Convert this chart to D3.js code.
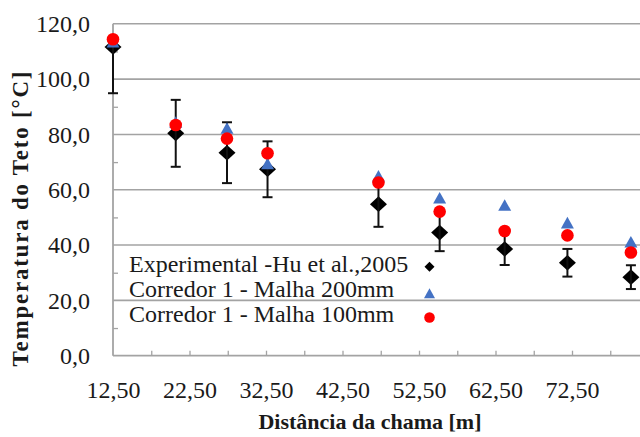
<!DOCTYPE html>
<html>
<head>
<meta charset="utf-8">
<script src="https://cdn.jsdelivr.net/npm/d3@7"></script>
<style>
  html, body { margin: 0; padding: 0; background: #fff; }
  svg { display: block; }
</style>
</head>
<body>
<svg id="chart" width="640" height="437"></svg>
<script>
// Distance from the flame [m] for each measurement point
const distancia = [12.5, 20.7, 27.4, 32.7, 47.2, 55.2, 63.7, 71.9, 80.2];
// Ceiling temperature [°C]
const experimental = [111.6, 80.4, 73.4, 67.4, 54.8, 44.5, 38.6, 33.6, 28.4];
const erroExperimental = [16.7, 12.1, 11.0, 10.1, 8.2, 6.7, 5.8, 5.0, 4.3];
const malha200 = [113.5, 84.5, 82.3, 69.5, 65.0, 57.1, 54.5, 48.1, 41.2];
const malha100 = [114.4, 83.4, 78.5, 73.2, 62.6, 52.1, 45.1, 43.5, 37.3];

const nomesSeries = ["Experimental -Hu et al.,2005", "Corredor 1 - Malha 200mm", "Corredor 1 - Malha 100mm"];
const xTicks = [12.5, 22.5, 32.5, 42.5, 52.5, 62.5, 72.5];
const xMinorTicks = [17.5, 22.5, 27.5, 32.5, 37.5, 42.5, 47.5, 52.5, 57.5, 62.5, 67.5, 72.5, 77.5, 82.5];
const yTicks = [0, 20, 40, 60, 80, 100, 120];
const yMinorTicks = [10, 30, 50, 70, 90, 110];

const ptBR = d3.formatLocale({ decimal: ",", thousands: ".", grouping: [3], currency: ["R$", ""] });
const fmtX = ptBR.format(".2f");
const fmtY = ptBR.format(".1f");

const fontSerif = "'Liberation Serif', 'Times New Roman', Times, 'DejaVu Serif', serif";
const textColor = "#1a1a1a";

const svg = d3.select("#chart").attr("font-family", fontSerif);
svg.append("rect").attr("width", 640).attr("height", 437).attr("fill", "#fff");

const plotLeft = 113, plotTop = 23.8, plotBottom = 355.7;
const x = d3.scaleLinear().domain([12.5, 82.5]).range([plotLeft, plotLeft + 7 * 76.5]);
const y = d3.scaleLinear().domain([0, 120]).range([plotBottom, plotTop]);

const gridColor = "#a3a3a3";

// horizontal gridlines
svg.append("g").selectAll("line").data(yTicks.filter(d => d > 0)).join("line")
  .attr("x1", plotLeft).attr("x2", 640)
  .attr("y1", d => y(d)).attr("y2", d => y(d))
  .attr("stroke", gridColor).attr("stroke-width", 1.6);

// minor tick marks pointing into the plot
svg.append("g").attr("transform", `translate(0,${plotBottom})`)
  .call(d3.axisBottom(x).tickValues(xMinorTicks).tickSize(-5).tickFormat(""))
  .call(g => g.select(".domain").remove())
  .call(g => g.selectAll("line").attr("stroke", gridColor).attr("stroke-width", 1.3));
svg.append("g").attr("transform", `translate(${plotLeft},0)`)
  .call(d3.axisLeft(y).tickValues(yMinorTicks).tickSize(-5).tickFormat(""))
  .call(g => g.select(".domain").remove())
  .call(g => g.selectAll("line").attr("stroke", gridColor).attr("stroke-width", 1.3));

// axis lines
svg.append("line").attr("x1", plotLeft).attr("x2", plotLeft).attr("y1", y(120)).attr("y2", plotBottom)
  .attr("stroke", gridColor).attr("stroke-width", 1.8);
svg.append("line").attr("x1", plotLeft).attr("x2", 640).attr("y1", plotBottom).attr("y2", plotBottom)
  .attr("stroke", gridColor).attr("stroke-width", 1.8);

// tick labels
svg.append("g").attr("transform", `translate(${plotLeft},0)`)
  .call(d3.axisLeft(y).tickValues(yTicks).tickSize(0).tickPadding(23).tickFormat(fmtY))
  .attr("font-family", fontSerif).attr("font-size", 24)
  .call(g => g.select(".domain").remove())
  .call(g => g.selectAll("text").attr("fill", textColor));
svg.append("g").attr("transform", `translate(0,${plotBottom})`)
  .call(d3.axisBottom(x).tickValues(xTicks).tickSize(0).tickPadding(25).tickFormat(fmtX))
  .attr("font-family", fontSerif).attr("font-size", 24)
  .call(g => g.select(".domain").remove())
  .call(g => g.selectAll("text").attr("fill", textColor));

// axis titles
svg.append("text")
  .attr("x", 370).attr("y", 429).attr("fill", textColor)
  .attr("text-anchor", "middle").attr("font-weight", "bold").attr("font-size", 22)
  .text("Distância da chama [m]");
svg.append("text")
  .attr("transform", "translate(28,219) rotate(-90)").attr("fill", textColor)
  .attr("text-anchor", "middle").attr("font-weight", "bold").attr("font-size", 23)
  .attr("textLength", 295).attr("lengthAdjust", "spacing")
  .text("Temperatura do Teto [°C]");

// marker shapes
const diamond = (w, h) => `M0,${-h}L${w},0L0,${h}L${-w},0Z`;
const triangle = (w, h) => `M0,${-h}L${w},${h}L${-w},${h}Z`;

const pts = distancia.map((d, i) => ({
  d, exp: experimental[i], err: erroExperimental[i], m200: malha200[i], m100: malha100[i]
}));

// experimental: diamonds with error bars
const expG = svg.append("g");
expG.selectAll("path").data(pts).join("path")
  .attr("transform", p => `translate(${x(p.d)},${y(p.exp)})`)
  .attr("d", diamond(8.5, 7.8)).attr("fill", "#000");
const errG = svg.append("g").attr("stroke", "#111").attr("stroke-width", 2);
pts.forEach(p => {
  const cx = x(p.d);
  const lo = p.exp - p.err, hi = p.exp + p.err;
  const yTop = hi <= 120 ? y(hi) : y(p.exp);
  errG.append("line").attr("x1", cx).attr("x2", cx).attr("y1", yTop).attr("y2", y(lo));
  errG.append("line").attr("x1", cx - 5).attr("x2", cx + 5).attr("y1", y(lo)).attr("y2", y(lo));
  if (hi <= 120) errG.append("line").attr("x1", cx - 5).attr("x2", cx + 5).attr("y1", y(hi)).attr("y2", y(hi));
});

// mesh 200 mm: blue triangles
svg.append("g").selectAll("path").data(pts).join("path")
  .attr("transform", p => `translate(${x(p.d)},${y(p.m200)})`)
  .attr("d", triangle(6.5, 5.8)).attr("fill", "#4472c4");

// mesh 100 mm: red circles
svg.append("g").selectAll("circle").data(pts).join("circle")
  .attr("cx", p => x(p.d)).attr("cy", p => y(p.m100)).attr("r", 6.3).attr("fill", "#ff0000");

// legend
const leg = svg.append("g");
const legRows = [272, 297, 322];
nomesSeries.forEach((nome, i) => {
  leg.append("text").attr("x", 129).attr("y", legRows[i]).attr("font-size", 24)
    .attr("fill", textColor).text(nome);
});
leg.append("path").attr("transform", "translate(429.5,266.7)").attr("d", diamond(5, 5)).attr("fill", "#000");
leg.append("path").attr("transform", "translate(429.5,293.3)").attr("d", triangle(5.5, 5)).attr("fill", "#4472c4");
leg.append("circle").attr("cx", 429.5).attr("cy", 317.5).attr("r", 5.3).attr("fill", "#ff0000");
</script>
</body>
</html>
